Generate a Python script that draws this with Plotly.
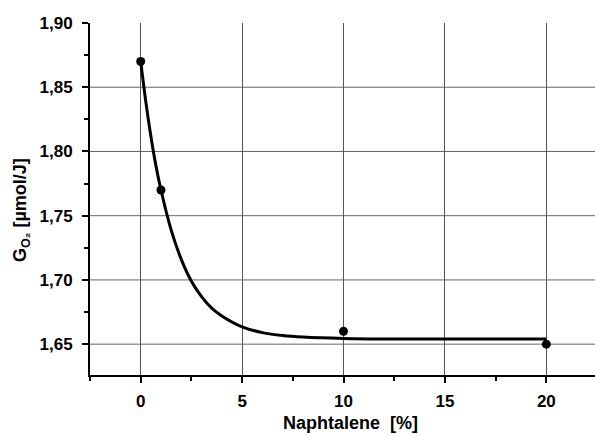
import plotly.graph_objects as go

# measured points
naph = [0, 1, 10, 20]
g_o2 = [1.87, 1.77, 1.66, 1.65]

# fitted curve, values
curve_x = [0, 0.25, 0.5, 0.75, 1, 1.5, 2, 2.5, 3, 3.5, 4, 5, 6, 7, 8, 10, 12, 15, 20]
curve_y = [1.870, 1.839, 1.812, 1.789, 1.770, 1.739, 1.716, 1.699, 1.687, 1.678, 1.672,
           1.6635, 1.659, 1.6567, 1.6555, 1.6544, 1.654, 1.654, 1.654]

x_ticks = [0, 5, 10, 15, 20]
y_ticks = [1.65, 1.70, 1.75, 1.80, 1.85, 1.90]
y_grid = [1.65, 1.70, 1.75, 1.80, 1.85]

fig = go.Figure()
fig.add_trace(go.Scatter(x=curve_x, y=curve_y, mode="lines",
                         line=dict(color="black", width=3, shape="spline"),
                         showlegend=False, hoverinfo="skip"))
fig.add_trace(go.Scatter(x=naph, y=g_o2, mode="markers",
                         marker=dict(color="black", size=9),
                         showlegend=False))

for v in y_grid:
    fig.add_shape(type="line", xref="paper", x0=0, x1=1, yref="y", y0=v, y1=v,
                  line=dict(color="#666", width=1), layer="below")

tick_font = dict(family="Liberation Sans, Arial, sans-serif", size=17, color="black")
title_font = dict(family="Liberation Sans, Arial, sans-serif", size=18, color="black")

W, H = 595, 436
ml, mr, mt, mb = 90, 0, 23, 61
pw, ph = W - ml - mr, H - mt - mb

fig.add_annotation(text="<b>Naphtalene  [%]</b>", xref="paper", yref="paper",
                   x=(350 - ml) / pw, y=-(423 - mt - ph) / ph, showarrow=False,
                   font=title_font, xanchor="center", yanchor="middle")
fig.add_annotation(text="<b>G<sub>O₂</sub> [µmol/J]</b>", xref="paper", yref="paper",
                   x=(21 - ml) / pw, y=1 - (210 - mt) / ph, showarrow=False, textangle=-90,
                   font=title_font, xanchor="center", yanchor="middle")

fig.update_layout(
    width=W, height=H,
    margin=dict(l=ml, r=mr, t=mt, b=mb),
    plot_bgcolor="white", paper_bgcolor="white",
    font=tick_font,
    xaxis=dict(range=[-2.5, 22.4], tickvals=x_ticks, ticktext=[f"<b>{v}</b>" for v in x_ticks],
               showgrid=True, gridcolor="#555", gridwidth=1, zeroline=False,
               showline=True, linecolor="black", linewidth=2,
               ticks="outside", ticklen=6, tickwidth=1.5, tickcolor="black",
               tickfont=tick_font, ticklabelstandoff=4,
               minor=dict(tickvals=[-2.5, 2.5, 7.5, 12.5, 17.5], ticks="outside", ticklen=4,
                          tickcolor="black", tickwidth=1.5, showgrid=False)),
    yaxis=dict(range=[1.626, 1.90], tickvals=y_ticks,
               ticktext=[f"<b>{v:.2f}</b>".replace(".", ",") for v in y_ticks],
               showgrid=False, zeroline=False,
               showline=True, linecolor="black", linewidth=2,
               ticks="outside", ticklen=6, tickwidth=1.5, tickcolor="black",
               tickfont=tick_font, ticklabelstandoff=6,
               minor=dict(tickvals=[1.675, 1.725, 1.775, 1.825, 1.875], ticks="outside",
                          ticklen=4, tickcolor="black", tickwidth=1.5, showgrid=False)),
)

fig.write_html("out.html")
